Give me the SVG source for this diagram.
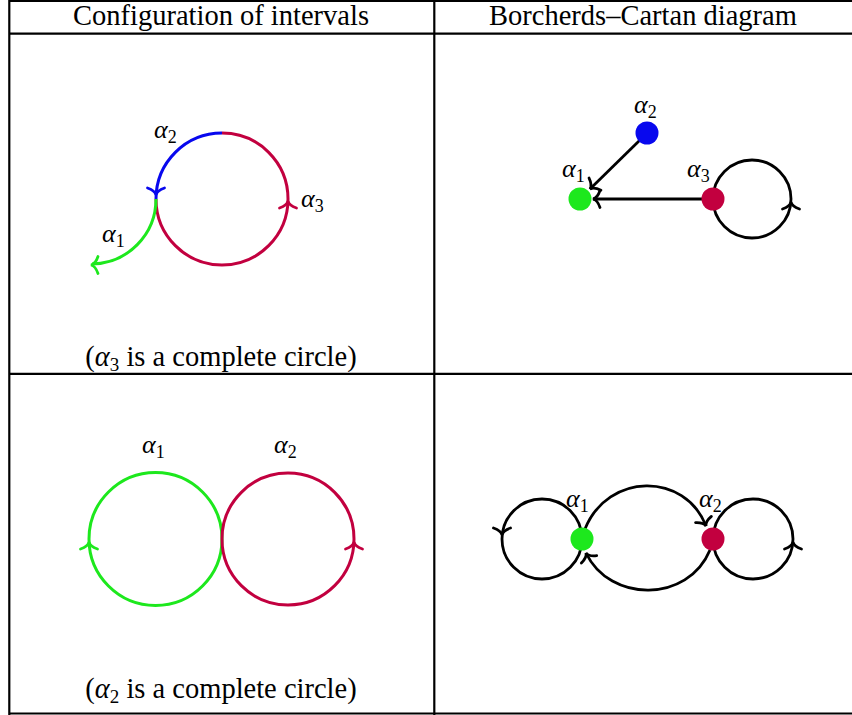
<svg xmlns="http://www.w3.org/2000/svg" xmlns:xlink="http://www.w3.org/1999/xlink" width="852" height="715" viewBox="0 0 852 715">
<style>
.grid{stroke:#000;stroke-width:2.2;fill:none}
.hd{font-family:"Liberation Serif","Times New Roman",serif;font-size:28.5px;fill:#000;text-anchor:middle}
.lb{font-family:"Liberation Serif","Times New Roman",serif;font-size:26px;font-style:italic;fill:#000}
.sub{font-size:18px;font-style:normal}
.g{stroke:#1de81d}
.b{stroke:#0808ee}
.r{stroke:#c2003f}
.k{stroke:#000}
.arc{fill:none;stroke-width:3}
.edge{fill:none;stroke:#000;stroke-width:2.8}
.tip{fill:none;stroke-width:2.8;stroke-linecap:round}
</style>
<defs>
<path id="tip" d="M -7,-8.5 C -5.2,-3.2 -2.2,-0.5 0,0 C -2.2,0.5 -5.2,3.2 -7,8.5"/>
<marker id="to" markerUnits="userSpaceOnUse" markerWidth="22" markerHeight="22" viewBox="-11 -11 22 22" refX="0" refY="0" orient="auto">
<path d="M -7,-8.5 C -5.2,-3.2 -2.2,-0.5 0,0 C -2.2,0.5 -5.2,3.2 -7,8.5" fill="none" stroke="#000" stroke-width="2.8" stroke-linecap="round"/>
</marker>
</defs>

<g id="table" class="grid">
<line x1="9" y1="1" x2="852" y2="1"/>
<line x1="9" y1="33.7" x2="852" y2="33.7"/>
<line x1="9" y1="373.8" x2="852" y2="373.8"/>
<line x1="9" y1="713.5" x2="852" y2="713.5"/>
<line x1="9.3" y1="0" x2="9.3" y2="715"/>
<line x1="434.3" y1="0" x2="434.3" y2="715"/>
</g>

<g id="headers">
<text class="hd" x="221" y="25">Configuration of intervals</text>
<text class="hd" x="643" y="25">Borcherds–Cartan diagram</text>
</g>

<g id="captions">
<text class="hd" x="221" y="366">(<tspan font-style="italic">α</tspan><tspan font-size="19" dy="5">3</tspan><tspan dy="-5"> is a complete circle)</tspan></text>
<text class="hd" x="221" y="698">(<tspan font-style="italic">α</tspan><tspan font-size="19" dy="5">2</tspan><tspan dy="-5"> is a complete circle)</tspan></text>
</g>

<!-- Top-left: configuration of intervals -->
<g id="interval-a3">
<path class="arc r" d="M 222,133 A 66,66 0 1 1 156,199"/>
<use xlink:href="#tip" class="tip r" transform="translate(288,201) rotate(-90)"/>
<text class="lb" x="301" y="207">α<tspan class="sub" dy="5">3</tspan></text>
</g>
<g id="interval-a2">
<path class="arc b" d="M 222,133 A 66,66 0 0 0 156,199"/>
<use xlink:href="#tip" class="tip b" transform="translate(156,195) rotate(90)"/>
<text class="lb" x="154" y="138">α<tspan class="sub" dy="5">2</tspan></text>
</g>
<g id="interval-a1">
<path class="arc g" d="M 156,199 A 65,65 0 0 1 92,264"/>
<use xlink:href="#tip" class="tip g" transform="translate(91,265) rotate(180)"/>
<text class="lb" x="102" y="242">α<tspan class="sub" dy="5">1</tspan></text>
</g>

<!-- Top-right: Borcherds-Cartan diagram -->
<g id="bc1-edges">
<line class="edge" x1="640" y1="140" x2="590" y2="189" marker-end="url(#to)"/>
<line class="edge" x1="702" y1="199" x2="593" y2="199" marker-end="url(#to)"/>
<circle class="edge" cx="752" cy="199" r="39"/>
<use xlink:href="#tip" class="tip k" transform="translate(791,202) rotate(-90)"/>
</g>
<g id="bc1-a1">
<circle cx="580" cy="199" r="11.5" fill="#1de81d"/>
<text class="lb" x="562" y="177">α<tspan class="sub" dy="5">1</tspan></text>
</g>
<g id="bc1-a2">
<circle cx="647" cy="133" r="11.5" fill="#0808ee"/>
<text class="lb" x="634" y="113">α<tspan class="sub" dy="5">2</tspan></text>
</g>
<g id="bc1-a3">
<circle cx="713" cy="199" r="11.5" fill="#c2003f"/>
<text class="lb" x="687" y="177">α<tspan class="sub" dy="5">3</tspan></text>
</g>

<!-- Bottom-left: configuration of intervals -->
<g id="interval2-a1">
<circle class="arc g" cx="155.5" cy="539" r="66.5"/>
<use xlink:href="#tip" class="tip g" transform="translate(89,542) rotate(-90)"/>
<text class="lb" x="142" y="453">α<tspan class="sub" dy="5">1</tspan></text>
</g>
<g id="interval2-a2">
<circle class="arc r" cx="288" cy="539" r="66"/>
<use xlink:href="#tip" class="tip r" transform="translate(354,542) rotate(-90)"/>
<text class="lb" x="274" y="453">α<tspan class="sub" dy="5">2</tspan></text>
</g>

<!-- Bottom-right: Borcherds-Cartan diagram -->
<g id="bc2-edges">
<circle class="edge" cx="542" cy="539" r="40"/>
<use xlink:href="#tip" class="tip k" transform="translate(502,535) rotate(90)"/>
<circle class="edge" cx="753" cy="539" r="40"/>
<use xlink:href="#tip" class="tip k" transform="translate(793,542) rotate(-90)"/>
<path class="edge" d="M 585,529 C 608,472 685,472 706,526" marker-end="url(#to)"/>
<path class="edge" d="M 710,550 C 688,603 610,603 586,553" marker-end="url(#to)"/>
</g>
<g id="bc2-a1">
<circle cx="582" cy="539" r="11.5" fill="#1de81d"/>
<text class="lb" x="566" y="507">α<tspan class="sub" dy="5">1</tspan></text>
</g>
<g id="bc2-a2">
<circle cx="713" cy="539" r="11.5" fill="#c2003f"/>
<text class="lb" x="699" y="507">α<tspan class="sub" dy="5">2</tspan></text>
</g>
</svg>
